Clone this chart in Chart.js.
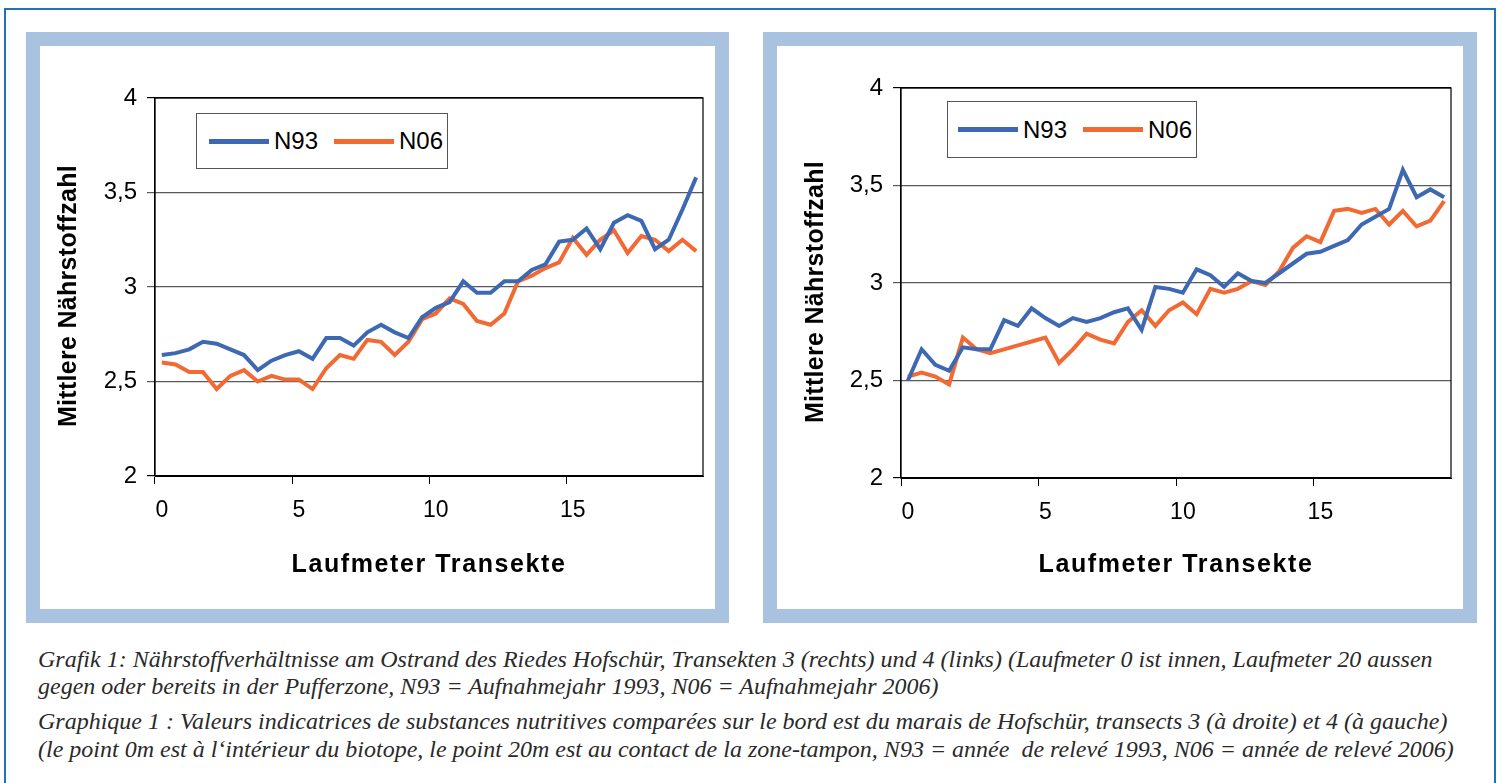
<!DOCTYPE html>
<html lang="de">

<head>
  <meta charset="UTF-8">
  <title>Grafik 1 - Nährstoffzahl Hofschür</title>
  <script src="https://cdn.jsdelivr.net/npm/chart.js"></script>
  <style>
    body { margin: 0; background: #fff; width: 1501px; height: 783px; overflow: hidden; position: relative; }
    .outer { position: absolute; left: 4px; top: 8px; width: 1492px; height: 790px; border: 2px solid #1f74b8; box-sizing: border-box; }
    .frame { position: absolute; top: 32px; height: 591px; border: 14px solid #a9c2df; box-sizing: border-box; background: #fff; }
    canvas { position: absolute; }
    .legend { position: absolute; border: 1px solid #555; background: #fff; box-sizing: border-box;
      font: 24px "Liberation Sans", Arial, sans-serif; color: #000; display: flex; align-items: center; }
    .legend .sw { display: inline-block; width: 60px; height: 5px; margin-right: 5px; }
    .legend .txt { margin-right: 16px; }
    .caption { position: absolute; left: 38px; font: italic 24px "Liberation Serif", "Times New Roman", serif; color: #2a2a2a; white-space: nowrap; }
  </style>
</head>

<body>
  <div class="outer"></div>
  <div class="frame" style="left:26px;width:703px"></div>
  <div class="frame" style="left:763px;width:714px"></div>

  <canvas id="chartLinks" width="675" height="563" style="left:40px;top:46px"></canvas>
  <canvas id="chartRechts" width="686" height="563" style="left:777px;top:46px"></canvas>

  <div class="legend" style="left:196px;top:113px;width:252px;height:56px;padding-left:12px">
    <span class="sw" style="background:#3d68b2"></span><span class="txt">N93</span>
    <span class="sw" style="background:#f26a33"></span><span>N06</span>
  </div>
  <div class="legend" style="left:947px;top:101px;width:250px;height:57px;padding-left:10px">
    <span class="sw" style="background:#3d68b2"></span><span class="txt">N93</span>
    <span class="sw" style="background:#f26a33"></span><span>N06</span>
  </div>

  <div class="caption" style="top:646px">Grafik 1: Nährstoffverhältnisse am Ostrand des Riedes Hofschür, Transekten 3 (rechts) und 4 (links) (Laufmeter 0 ist innen, Laufmeter 20 aussen</div>
  <div class="caption" style="top:673px">gegen oder bereits in der Pufferzone, N93 = Aufnahmejahr 1993, N06 = Aufnahmejahr 2006)</div>
  <div class="caption" style="top:708px">Graphique 1 : Valeurs indicatrices de substances nutritives comparées sur le bord est du marais de Hofschür, transects 3 (à droite) et 4 (à gauche)</div>
  <div class="caption" style="top:736px">(le point 0m est à l‘intérieur du biotope, le point 20m est au contact de la zone-tampon, N93 = année &nbsp;de relevé 1993, N06 = année de relevé 2006)</div>

  <script>
    // Laufmeter (every half metre)
    var meters = ['0', '0.5', '1', '1.5', '2', '2.5', '3', '3.5', '4', '4.5',
      '5', '5.5', '6', '6.5', '7', '7.5', '8', '8.5', '9', '9.5',
      '10', '10.5', '11', '11.5', '12', '12.5', '13', '13.5', '14', '14.5',
      '15', '15.5', '16', '16.5', '17', '17.5', '18', '18.5', '19', '19.5'];

    // Transekt 4 (links)
    var n93Links = [2.64, 2.65, 2.67, 2.71, 2.70, 2.67, 2.64, 2.56, 2.61, 2.64,
      2.66, 2.62, 2.73, 2.73, 2.69, 2.76, 2.80, 2.76, 2.73, 2.84,
      2.89, 2.92, 3.03, 2.97, 2.97, 3.03, 3.03, 3.09, 3.12, 3.24,
      3.25, 3.31, 3.20, 3.34, 3.38, 3.35, 3.20, 3.25, 3.41, 3.58];
    var n06Links = [2.60, 2.59, 2.55, 2.55, 2.46, 2.53, 2.56, 2.50, 2.53, 2.51,
      2.51, 2.46, 2.57, 2.64, 2.62, 2.72, 2.71, 2.64, 2.71, 2.83,
      2.86, 2.94, 2.91, 2.82, 2.80, 2.86, 3.03, 3.06, 3.10, 3.13,
      3.26, 3.17, 3.25, 3.30, 3.18, 3.27, 3.25, 3.19, 3.25, 3.19];

    // Transekt 3 (rechts)
    var n93Rechts = [2.50, 2.66, 2.58, 2.55, 2.67, 2.66, 2.66, 2.81, 2.78, 2.87,
      2.82, 2.78, 2.82, 2.80, 2.82, 2.85, 2.87, 2.76, 2.98, 2.97,
      2.95, 3.07, 3.04, 2.98, 3.05, 3.01, 3.00, 3.05, 3.10, 3.15,
      3.16, 3.19, 3.22, 3.30, 3.34, 3.38, 3.58, 3.44, 3.48, 3.44];
    var n06Rechts = [2.52, 2.54, 2.52, 2.48, 2.72, 2.66, 2.64, 2.66, 2.68, 2.70,
      2.72, 2.59, 2.66, 2.74, 2.71, 2.69, 2.80, 2.86, 2.78, 2.86,
      2.90, 2.84, 2.97, 2.95, 2.97, 3.01, 2.99, 3.06, 3.18, 3.24,
      3.21, 3.37, 3.38, 3.36, 3.38, 3.30, 3.37, 3.29, 3.32, 3.42];

    var yMin = 2, yMax = 4, yStep = 0.5;
    var labelEvery = 10;

    var fontFamily = '"Liberation Sans", Arial, sans-serif';

    var plotFrame = {
      id: 'plotFrame',
      beforeDatasetsDraw: function (chart) {
        var a = chart.chartArea;
        var ctx = chart.ctx;
        ctx.save();
        ctx.strokeStyle = '#000';
        ctx.lineWidth = 1.2;
        ctx.strokeRect(a.left, a.top, a.right - a.left, a.bottom - a.top);
        ctx.restore();
      }
    };

    // wrap the axis title drawing: extra letter spacing / small shift like the Excel original
    function tweakTitle(scale, spacing, dx, dy) {
      if (scale._tweaked) return;
      var orig = scale.drawTitle;
      scale.drawTitle = function () {
        var ctx = this.ctx;
        ctx.save();
        ctx.letterSpacing = spacing;
        ctx.translate(dx, dy);
        orig.apply(this, arguments);
        ctx.restore();
      };
      scale._tweaked = true;
    }

    function makeChart(id, n93, n06, opt) {
      return new Chart(document.getElementById(id), {
        type: 'line',
        data: {
          labels: meters,
          datasets: [
            { label: 'N93', data: n93, borderColor: '#3d68b2', borderWidth: 4, pointRadius: 0, tension: 0, fill: false },
            { label: 'N06', data: n06, borderColor: '#f26a33', borderWidth: 4, pointRadius: 0, tension: 0, fill: false }
          ]
        },
        options: {
          responsive: false,
          animation: false,
          events: [],
          layout: { padding: { top: opt.top, right: opt.right, left: 0, bottom: 0 } },
          plugins: { legend: { display: false }, tooltip: { enabled: false } },
          scales: {
            x: {
              type: 'category',
              offset: true,
              afterFit: function (s) {
                s.height = opt.xHeight;
                tweakTitle(s, '1.6px', 0, 0);
              },
              grid: {
                offset: true,
                drawOnChartArea: false,
                tickLength: 8,
                color: function (c) { return c.index % labelEvery === 0 ? '#000' : 'rgba(0,0,0,0)'; }
              },
              border: { display: true, color: '#000', width: 1 },
              ticks: {
                autoSkip: false,
                maxRotation: 0,
                padding: 13,
                color: '#000',
                font: { family: fontFamily, size: 23 },
                callback: function (v, i) { return i % labelEvery === 0 ? meters[i] : ''; }
              },
              title: {
                display: true,
                text: 'Laufmeter Transekte',
                color: '#000',
                font: { family: fontFamily, size: 25, weight: 'bold' },
                padding: { top: 0, bottom: 29 }
              }
            },
            y: {
              min: yMin,
              max: yMax,
              afterFit: function (s) {
                s.width = opt.yWidth;
                tweakTitle(s, '0.3px', 0, 9);
              },
              grid: {
                tickLength: 8,
                color: function (c) { return (c.tick && (c.tick.value === yMin || c.tick.value === yMax)) ? '#000' : '#5a5a5a'; },
                lineWidth: 1.2
              },
              border: { display: true, color: '#000', width: 1.2 },
              ticks: {
                stepSize: yStep,
                padding: 10,
                color: '#000',
                font: { family: fontFamily, size: 24 },
                callback: function (v) { return String(v).replace('.', ','); }
              },
              title: {
                display: true,
                text: 'Mittlere Nährstoffzahl',
                color: '#000',
                font: { family: fontFamily, size: 25, weight: 'bold' },
                padding: { top: opt.titleLeft, bottom: 0 }
              }
            }
          }
        },
        plugins: [plotFrame]
      });
    }

    makeChart('chartLinks', n93Links, n06Links, { top: 52, right: 12, yWidth: 115, xHeight: 133, titleLeft: 14 });
    makeChart('chartRechts', n93Rechts, n06Rechts, { top: 42, right: 12, yWidth: 124, xHeight: 131, titleLeft: 24 });
  </script>
</body>

</html>
